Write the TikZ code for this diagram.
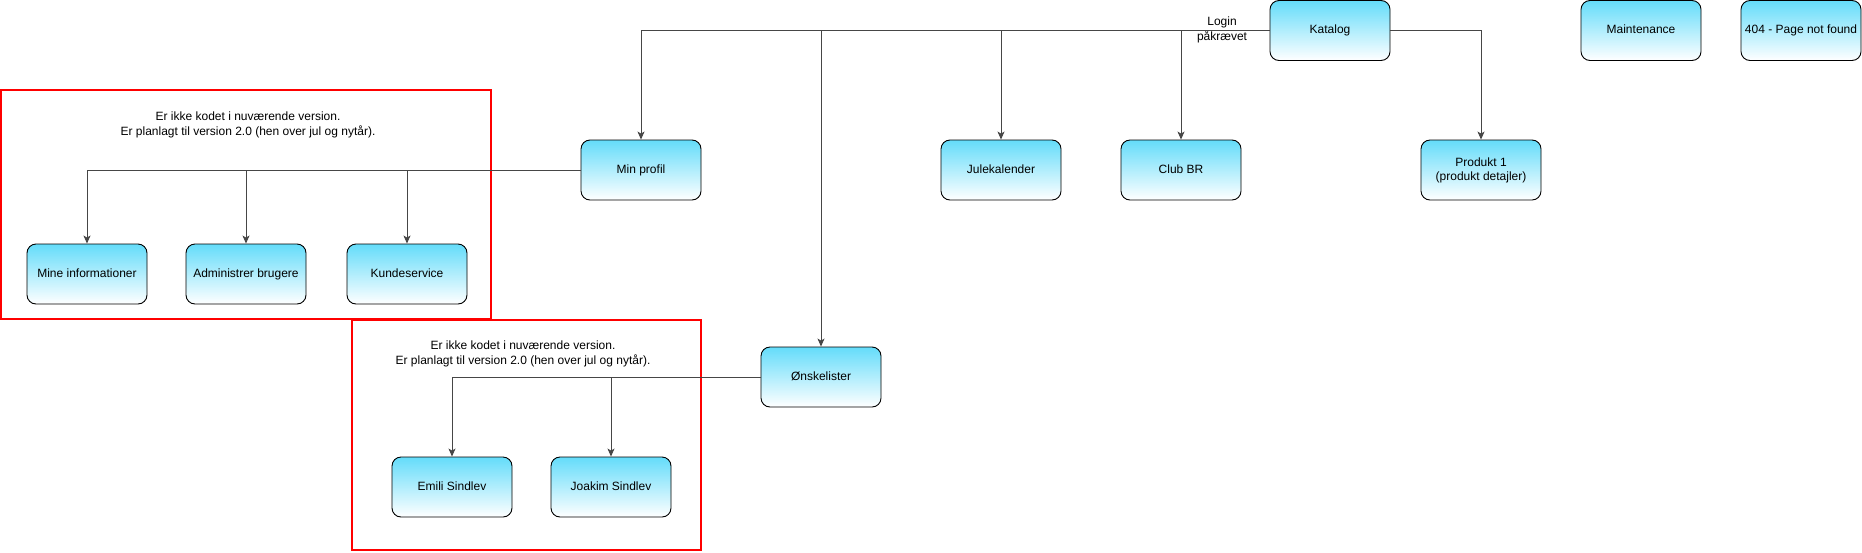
\documentclass[tikz,border=0pt]{standalone}
\usepackage{fontspec}
\setmainfont{Liberation Sans}
\usetikzlibrary{arrows.meta}
\definecolor{boxtop}{RGB}{100,220,250}
\definecolor{edgecol}{RGB}{70,70,70}
\tikzset{
  pagebox/.style={draw=black, line width=0.9pt, rounded corners=9pt,
    minimum width=120pt, minimum height=60pt, inner sep=2pt,
    top color=boxtop, bottom color=white, align=center,
    font=\fontsize{12}{14}\selectfont},
  oneline/.style={pagebox, text height=8.7pt, text depth=2.6pt},
  edge/.style={draw=edgecol, line width=0.9pt,
    -{Stealth[length=8pt,width=7pt,inset=2pt]}},
  notebox/.style={draw=red, line width=1.4pt},
  notetext/.style={align=center, font=\fontsize{12}{15}\selectfont},
}
\begin{document}
\begin{tikzpicture}[x=1pt,y=-1pt]
\useasboundingbox (0,0) rectangle (1862,552);
% note frames
\draw[notebox] (1,90) rectangle (491,319);
\draw[notebox] (352,320) rectangle (701,550);
\node[notetext] (note1) at (248,125) {Er ikke kodet i nuværende version.\\Er planlagt til version 2.0 (hen over jul og nytår).};
\node[notetext] (note2) at (523,354) {Er ikke kodet i nuværende version.\\Er planlagt til version 2.0 (hen over jul og nytår).};
% nodes
\node[oneline] (katalog) at (1330,30.5) {Katalog};
\node[oneline] (maint) at (1641,30.5) {Maintenance};
\node[oneline] (notfound) at (1801,30.5) {404 - Page not found};
\node[oneline] (minprofil) at (641,170) {Min profil};
\node[oneline] (jule) at (1001,170) {Julekalender};
\node[oneline] (club) at (1181,170) {Club BR};
\node[pagebox] (produkt) at (1481,170) {Produkt 1\\(produkt detajler)};
\node[oneline] (mineinfo) at (87,274) {Mine informationer};
\node[oneline] (admin) at (246,274) {Administrer brugere};
\node[oneline] (kunde) at (407,274) {Kundeservice};
\node[oneline] (onske) at (821,377) {Ønskelister};
\node[oneline] (emili) at (452,487) {Emili Sindlev};
\node[oneline] (joakim) at (611,487) {Joakim Sindlev};
% label
\node[notetext, inner sep=0pt] (login) at (1222,30) {Login\\påkrævet};
% edges
\draw[edge] (katalog.west) -| (minprofil.north);
\draw[edge] (katalog.west) -| (onske.north);
\draw[edge] (katalog.west) -| (jule.north);
\draw[edge] (katalog.west) -| (club.north);
\draw[edge] (katalog.east) -| (produkt.north);
\draw[edge] (minprofil.west) -| (mineinfo.north);
\draw[edge] (minprofil.west) -| (admin.north);
\draw[edge] (minprofil.west) -| (kunde.north);
\draw[edge] (onske.west) -| (emili.north);
\draw[edge] (onske.west) -| (joakim.north);
\end{tikzpicture}
\end{document}
